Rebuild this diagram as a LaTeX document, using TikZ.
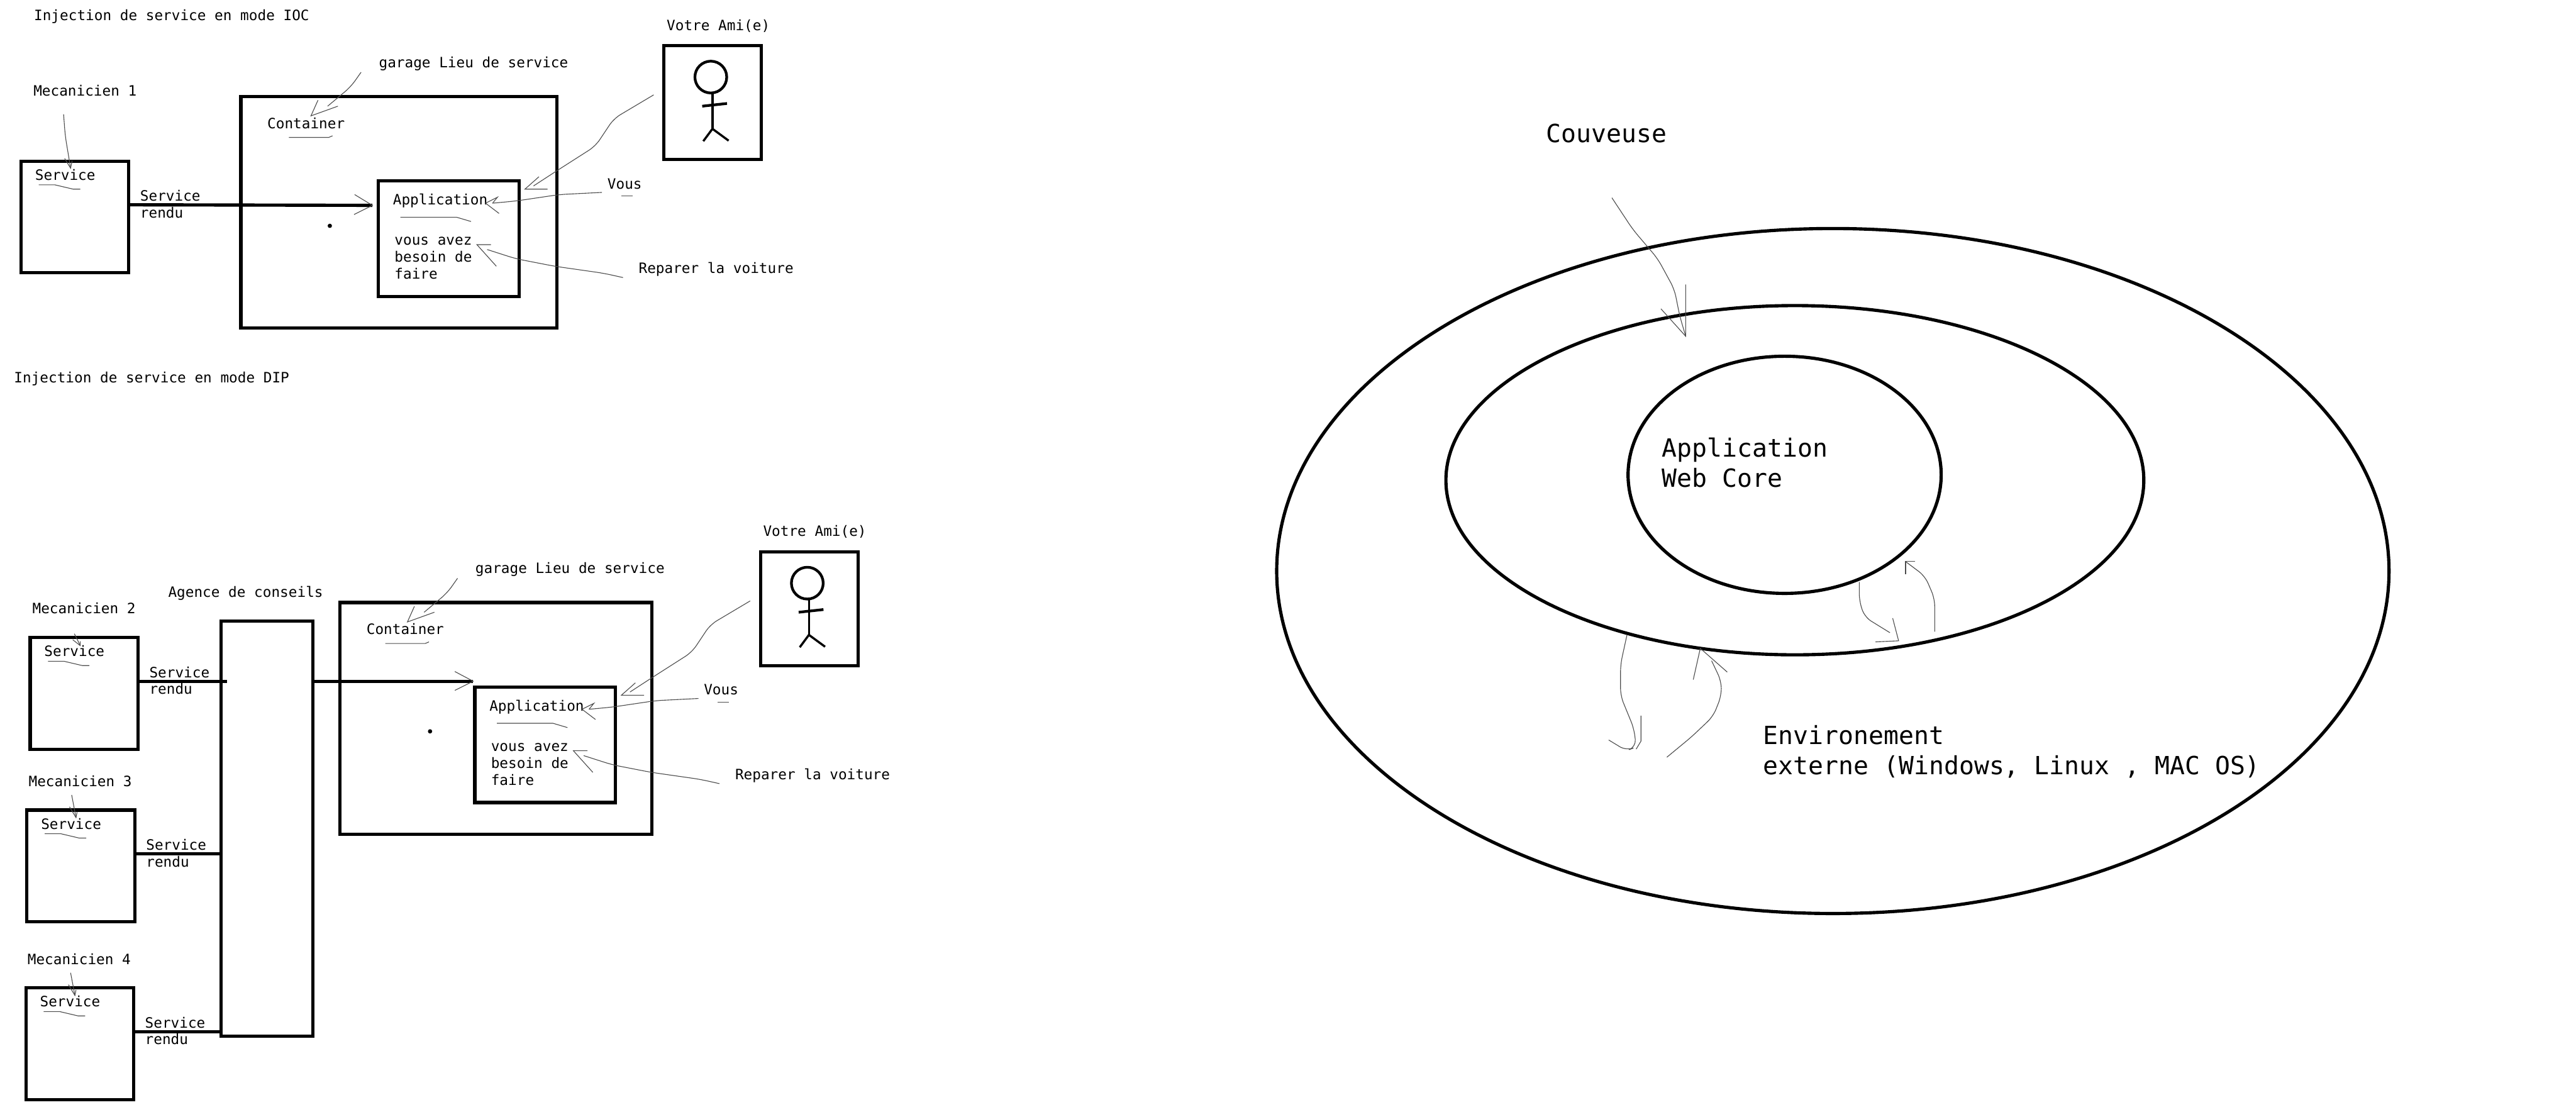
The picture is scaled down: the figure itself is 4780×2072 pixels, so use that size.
\documentclass[tikz,border=0pt]{standalone}
\usepackage{fontspec}
\usetikzlibrary{shapes.geometric}
\newfontfamily\sketchfont{DejaVu Sans Mono}
\begin{document}
\begin{tikzpicture}[x=1pt, y=-1pt,
  box/.style={draw, line width=6pt, rectangle, inner sep=0pt, outer sep=0pt},
  ring/.style={draw, line width=6pt, ellipse, inner sep=0pt, outer sep=0pt},
  wire/.style={line width=6pt},
  pointer/.style={line width=1.3pt, black!70},
  freehand/.style={pointer, rounded corners=14pt},
  lbl/.style={anchor=mid west, yshift=-6pt, inner sep=0pt, font=\sketchfont\fontsize{26.5}{32}\selectfont},
  para/.style={anchor=north west, yshift=-6pt, align=left, inner sep=0pt, font=\sketchfont\fontsize{26.5}{31.5}\selectfont},
  biglbl/.style={anchor=north west, yshift=-6pt, align=left, inner sep=0pt, font=\sketchfont\fontsize{46.4}{56}\selectfont}]
  \useasboundingbox (0,0) rectangle (4780,2072);

  \node[lbl] (titleioc) at (63,30) {Injection de service en mode IOC};
  \node[lbl] (titledip) at (26,702) {Injection de service en mode DIP};

  % the mechanics and their service boxes
  \node[lbl] (meca1) at (62,170) {Mecanicien 1};
  \node[lbl] (meca2) at (60,1130) {Mecanicien 2};
  \node[lbl] (meca3) at (53,1451) {Mecanicien 3};
  \node[lbl] (meca4) at (51,1781) {Mecanicien 4};
  \foreach \n/\x/\y in {1/39/299, 2/56/1183, 3/50/1503, 4/48/1833} {
    \node[box, minimum width=200pt, minimum height=207pt] (serv\n) at (\x+100,\y+103.5) {};
    \coordinate (out\n) at ([yshift=-81pt]serv\n.north east);
    \begin{scope}[shift={(\x,\y)}]
      \node[lbl] (servtxt\n) at (26,27) {Service};
      \node[lbl] (rendu\n) at (221,66) {Service};
      \node[lbl] (rendub\n) at (221,97) {rendu};
      \draw[pointer] (33,44) -- (63,44) -- (97,52) -- (110,52);
    \end{scope}
  }
  \coordinate (mecaend1) at (131,312);
  \coordinate (mecaend2) at (149,1198);
  \coordinate (mecaend3) at (141,1517);
  \coordinate (mecaend4) at (139,1847);
  \draw[freehand] (118,212) -- (121,252) -- (mecaend1);
  \draw[pointer] (120,294) -- (mecaend1) -- (134,298);
  \draw[pointer] (138,1176) -- (mecaend2);
  \draw[pointer] (135,1187) -- (mecaend2) -- (149,1190);
  \draw[pointer] (133,1475) -- (mecaend3);
  \draw[pointer] (129,1497) -- (mecaend3) -- (143,1507);
  \draw[pointer] (131,1805) -- (mecaend4);
  \draw[pointer] (127,1827) -- (mecaend4) -- (141,1837);

  \node[lbl] (agencetxt) at (312,1100) {Agence de conseils};
  \node[box, minimum width=171pt, minimum height=771pt] (agence) at (495.5,1537.5) {};

  % garage, application and friend, twice
  \foreach \pre/\dx/\dy/\cx/\cw/\ct in {a/0/0/740/586/496, b/179/939/741.5/579/501} {
    \begin{scope}[shift={(\dx,\dy)}]
      \node[box, minimum width=\cw pt, minimum height=430pt] (cont\pre) at (\cx,394) {};
      \node[box, minimum width=261pt, minimum height=214pt] (app\pre) at (832.5,443) {};
      \node[box, minimum width=181pt, minimum height=211pt] (ami\pre) at (1322.5,190.5) {};
      \node[lbl] (amitxt\pre) at (1237,48) {Votre Ami(e)};
      \node[lbl] (garage\pre) at (703,117) {garage Lieu de service};
      \node[lbl] (conttxt\pre) at (\ct,230) {Container};
      \node[lbl] (apptxt\pre) at (729,372) {Application};
      \node[para] (besoin\pre) at (732,434) {vous avez\\besoin de\\faire};
      \node[lbl] (vous\pre) at (1127,342) {Vous};
      \node[lbl] (reparer\pre) at (1185,499) {Reparer la voiture};
      % stick figure
      \draw[line width=5pt] (1319,143) circle (29.5pt);
      \draw[line width=4pt] (1322,174) -- (1322,239);
      \draw[line width=5pt] (1303,197) -- (1349,192);
      \draw[line width=4pt] (1305,262) -- (1322,239) -- (1352,261);
      % hand drawn pointers
      \coordinate (contend\pre) at (577,215);
      \coordinate (append\pre) at (974,351);
      \coordinate (vousend\pre) at (901,377);
      \coordinate (repend\pre) at (885,454);
      \draw[freehand] (670,134) -- (651,161) -- (608,197);
      \draw[pointer] (590,186) -- (contend\pre) -- (627,197);
      \draw[pointer] (536,255) -- (610,255) -- (617,252);
      \draw[freehand] (1213,176) -- (1139,220) -- (1105,271) -- (1033,317) -- (990,345);
      \draw[pointer] (1000,328) -- (append\pre) -- (1016,351);
      \draw[freehand] (1117,357) -- (1038,361) -- (957,373) -- (914,377);
      \draw[pointer] (914,377) -- (923,366) -- (vousend\pre) -- (926,396);
      \draw[pointer] (1153,364) -- (1174,364);
      \draw[pointer] (743,403) -- (847,403) -- (874,411);
      \draw[freehand] (1156,515) -- (1120,507) -- (1029,494) -- (957,480) -- (904,463);
      \draw[pointer] (911,454) -- (repend\pre) -- (921,494);
    \end{scope}
  }
  \fill (612,419) circle (4pt);
  \fill (798,1357) circle (4pt);

  % service lines
  \coordinate (tipa) at (691,381);
  \coordinate (tipb) at (878,1264);
  \draw[wire] (out1) -- (tipa);
  \draw[wire] (out2) -- ([xshift=11pt]out2 -| agence.west);
  \draw[wire] (out3) -- ([xshift=3pt]out3 -| agence.west);
  \draw[wire] (out4) -- (out4 -| agence.west);
  \draw[wire] (tipb -| agence.east) -- (tipb);
  \draw[pointer] (658,361) -- (tipa) -- (657,398);
  \draw[pointer] (844,1246) -- (tipb) -- (844,1281);

  % the rings
  \node[ring, minimum width=2064pt, minimum height=1271pt] (envring) at (3401,1059.5) {};
  \node[ring, minimum width=1295pt, minimum height=648pt] (couvring) at (3330.5,891) {};
  \node[ring, minimum width=581pt, minimum height=440pt] (appring) at (3311.5,881) {};
  \node[biglbl] (couveuse) at (2869,224) {Couveuse};
  \node[biglbl] (webcore) at (3084,806) {Application\\Web Core};
  \node[biglbl] (envtxt) at (3272,1340) {Environement\\externe (Windows, Linux , MAC OS)};

  \coordinate (couvend) at (3128,624);
  \coordinate (downend) at (3523,1189);
  \coordinate (upend) at (3536,1042);
  \coordinate (loopend) at (3036,1390);
  \coordinate (backend) at (3155,1203);
  \draw[freehand] (2991,367) -- (3030,426) -- (3076,480) -- (3107,537) -- (3117,587) -- (couvend);
  \draw[pointer] (3082,573) -- (couvend) -- (3128,528);
  \draw[freehand] (3450,1080) -- (3450,1115) -- (3460,1145) -- (3507,1174);
  \draw[pointer] (3512,1147) -- (downend) -- (3480,1191);
  \draw[freehand] (3590,1172) -- (3590,1111) -- (3572,1069) -- (upend);
  \draw[pointer] (3554,1042) -- (upend) -- (3536,1065);
  \draw[freehand] (3019,1178) -- (3007,1233) -- (3007,1291) -- (3032,1352) -- (3036,1386) -- (3018,1393) -- (2985,1373);
  \draw[pointer] (3045,1328) -- (3045,1375) -- (loopend);
  \draw[freehand] (3093,1405) -- (3139,1367) -- (3179,1329) -- (3194,1291) -- (3194,1264) -- (3176,1226);
  \draw[pointer] (3142,1261) -- (backend) -- (3205,1247);
\end{tikzpicture}
\end{document}
